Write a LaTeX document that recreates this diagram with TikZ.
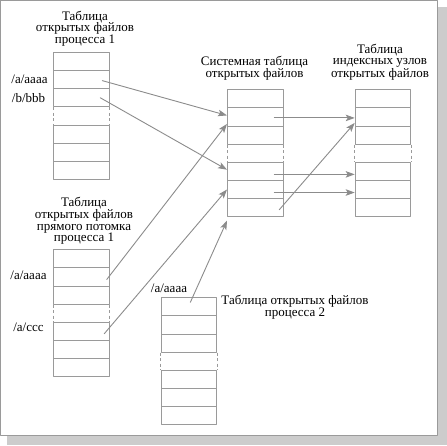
\documentclass[tikz,border=0pt]{standalone}
\usepackage{fontspec}
\setmainfont{Liberation Serif}
\usetikzlibrary{arrows.meta}
\definecolor{boxgray}{HTML}{9A9A9A}
\definecolor{arrgray}{HTML}{8C8C8C}
\definecolor{shadowgray}{HTML}{CCCCCC}
\tikzset{
  row/.style={draw=boxgray,line width=0.8pt,minimum width=55.5pt,minimum height=18.15pt,inner sep=0pt,anchor=north west},
  gapline/.style={draw=boxgray,line width=0.8pt,line cap=butt,dash pattern=on 3pt off 2.5pt},
  arr/.style={->,draw=arrgray,line width=0.9pt},
  lbl/.style={font=\fontsize{13}{11.7}\selectfont,align=center,inner sep=0pt}
}
\begin{document}
\begin{tikzpicture}[line cap=round,line join=round,>={Stealth[length=9pt,width=6.5pt,inset=2pt]},x=1pt,y=-1pt]
	\useasboundingbox (0,0) rectangle (447,445);
	\fill [shadowgray] (7,7) rectangle (447,445);
	\draw [boxgray,line width=1.3pt,fill=white] (0.65,0.65) rectangle (437.5,435.5);
	\foreach \tb/\x/\y in {p1/53/52,ch/53/249.3,p2/160.7/297.3,sys/227/89.3,ino/354.7/89.3}{
		\foreach \r in {1,2,3,5,6,7}
			\node [row] (\tb r\r) at (\x,\y+\r*18.15-18.15) {};
		\draw [gapline] (\tb r3.south west)-- (\tb r5.north west) (\tb r3.south east)-- (\tb r5.north east);
	}
	\node [lbl] (p1title) at (85,28.5) {Таблица\\открытых файлов\\процесса 1};
	\node [lbl] (chtitle) at (84,221) {Таблица\\открытых файлов\\прямого потомка\\процесса 1};
	\node [lbl] (p2title) at (295,307.5) {Таблица открытых файлов\\процесса 2};
	\node [lbl] (systitle) at (254.5,68) {Системная таблица\\открытых файлов};
	\node [lbl] (inotitle) at (380,62) {Таблица\\индексных узлов\\открытых файлов};
	\node [lbl] (p1a) at (29.5,79.5) {/a/aaaa};
	\node [lbl] (p1b) at (28.5,97.7) {/b/bbb};
	\node [lbl] (cha) at (28.5,275) {/a/aaaa};
	\node [lbl] (chc) at (28.5,327.7) {/a/ccc};
	\node [lbl] (p2a) at (169,288.3) {/a/aaaa};
	\draw [arr] ([xshift=-7pt,yshift=-1pt]p1r2.east)-- ([yshift=1.5pt]sysr2.west);
	\draw [arr] ([xshift=-9pt]p1r3.east)-- ([yshift=1.7pt]sysr5.west);
	\draw [arr] ([xshift=-2.5pt,yshift=-2.5pt]chr2.east)-- ([yshift=-7pt]sysr2.west);
	\draw [arr] ([xshift=-5pt,yshift=-2.3pt]chr5.east)-- (sysr6.west);
	\draw [arr] ([xshift=1.5pt,yshift=4.5pt]p2r1.center)-- ([yshift=-3.5pt]sysr7.south west);
	\draw [arr] ([xshift=-9pt,yshift=-1pt]sysr2.east)-- ([yshift=-1pt]inor2.west);
	\draw [arr] ([xshift=-9pt,yshift=-3pt]sysr5.east)-- ([yshift=-3pt]inor5.west);
	\draw [arr] ([xshift=-9pt,yshift=-3pt]sysr6.east)-- ([yshift=-3pt]inor6.west);
	\draw [arr] ([xshift=-4pt,yshift=-2pt]sysr7.east)-- ([yshift=-6pt]inor2.west);
\end{tikzpicture}
\end{document}
